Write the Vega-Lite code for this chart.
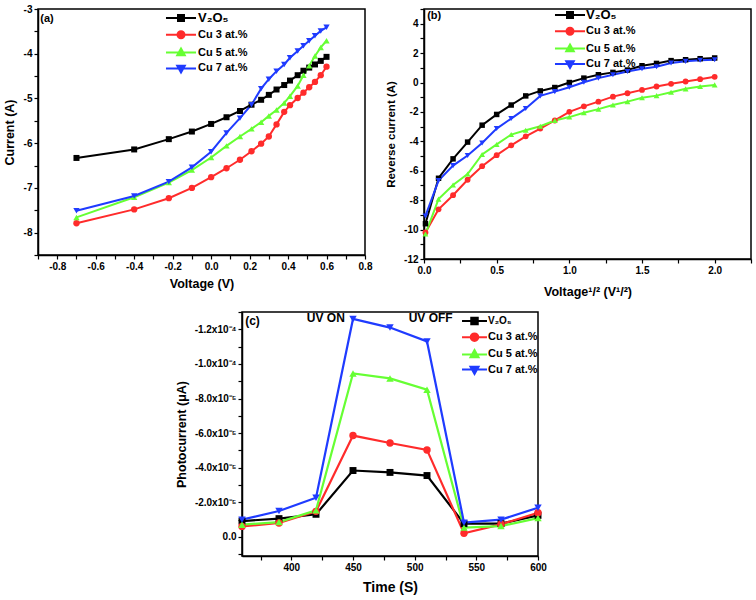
{
  "$schema": "https://vega.github.io/schema/vega-lite/v6.json",
  "padding": {"left": 2, "top": 3, "right": 0, "bottom": 0},
  "config": {
    "view": {"stroke": "#000000", "strokeWidth": 1.5},
    "font": "Liberation Sans",
    "axis": {"grid": false, "domainColor": "#000000", "domainWidth": 1.5, "tickColor": "#000000", "tickWidth": 1.2, "tickSize": 4, "labelColor": "#000000", "labelFont": "Liberation Sans", "labelFontWeight": "bold", "labelFontSize": 10, "labelPadding": 2, "titleColor": "#000000", "titleFont": "Liberation Sans", "titleFontWeight": "bold", "titleFontSize": 12.5, "labelOverlap": false, "labelFlush": false},
    "legend": {"labelFont": "Liberation Sans", "labelFontWeight": "bold", "labelFontSize": 11, "labelColor": "#000000", "padding": 0, "symbolSize": 169, "symbolStrokeWidth": 2, "labelLimit": 200}
  },
  "datasets": {
    "iv": [
      {"s":"V₂O₅","x":-0.7,"y":-6.33},{"s":"V₂O₅","x":-0.4,"y":-6.14},{"s":"V₂O₅","x":-0.22,"y":-5.91},{"s":"V₂O₅","x":-0.1,"y":-5.74},{"s":"V₂O₅","x":0.0,"y":-5.57},{"s":"V₂O₅","x":0.08,"y":-5.42},{"s":"V₂O₅","x":0.15,"y":-5.28},{"s":"V₂O₅","x":0.21,"y":-5.14},{"s":"V₂O₅","x":0.26,"y":-5.03},{"s":"V₂O₅","x":0.3,"y":-4.92},{"s":"V₂O₅","x":0.34,"y":-4.8},{"s":"V₂O₅","x":0.38,"y":-4.7},{"s":"V₂O₅","x":0.41,"y":-4.6},{"s":"V₂O₅","x":0.45,"y":-4.48},{"s":"V₂O₅","x":0.48,"y":-4.38},{"s":"V₂O₅","x":0.51,"y":-4.31},{"s":"V₂O₅","x":0.54,"y":-4.24},{"s":"V₂O₅","x":0.57,"y":-4.16},{"s":"V₂O₅","x":0.6,"y":-4.07},
      {"s":"Cu 3 at.%","x":-0.7,"y":-7.79},{"s":"Cu 3 at.%","x":-0.4,"y":-7.48},{"s":"Cu 3 at.%","x":-0.22,"y":-7.23},{"s":"Cu 3 at.%","x":-0.1,"y":-7.0},{"s":"Cu 3 at.%","x":0.0,"y":-6.76},{"s":"Cu 3 at.%","x":0.08,"y":-6.56},{"s":"Cu 3 at.%","x":0.15,"y":-6.37},{"s":"Cu 3 at.%","x":0.21,"y":-6.18},{"s":"Cu 3 at.%","x":0.26,"y":-6.01},{"s":"Cu 3 at.%","x":0.3,"y":-5.85},{"s":"Cu 3 at.%","x":0.34,"y":-5.58},{"s":"Cu 3 at.%","x":0.38,"y":-5.3},{"s":"Cu 3 at.%","x":0.41,"y":-5.15},{"s":"Cu 3 at.%","x":0.45,"y":-4.99},{"s":"Cu 3 at.%","x":0.48,"y":-4.87},{"s":"Cu 3 at.%","x":0.51,"y":-4.75},{"s":"Cu 3 at.%","x":0.54,"y":-4.63},{"s":"Cu 3 at.%","x":0.57,"y":-4.48},{"s":"Cu 3 at.%","x":0.6,"y":-4.29},
      {"s":"Cu 5 at.%","x":-0.7,"y":-7.66},{"s":"Cu 5 at.%","x":-0.4,"y":-7.21},{"s":"Cu 5 at.%","x":-0.22,"y":-6.88},{"s":"Cu 5 at.%","x":-0.1,"y":-6.6},{"s":"Cu 5 at.%","x":0.0,"y":-6.32},{"s":"Cu 5 at.%","x":0.08,"y":-6.06},{"s":"Cu 5 at.%","x":0.15,"y":-5.85},{"s":"Cu 5 at.%","x":0.21,"y":-5.68},{"s":"Cu 5 at.%","x":0.26,"y":-5.53},{"s":"Cu 5 at.%","x":0.3,"y":-5.39},{"s":"Cu 5 at.%","x":0.34,"y":-5.26},{"s":"Cu 5 at.%","x":0.38,"y":-5.1},{"s":"Cu 5 at.%","x":0.41,"y":-4.95},{"s":"Cu 5 at.%","x":0.45,"y":-4.72},{"s":"Cu 5 at.%","x":0.48,"y":-4.48},{"s":"Cu 5 at.%","x":0.51,"y":-4.27},{"s":"Cu 5 at.%","x":0.54,"y":-4.05},{"s":"Cu 5 at.%","x":0.57,"y":-3.86},{"s":"Cu 5 at.%","x":0.6,"y":-3.71},
      {"s":"Cu 7 at.%","x":-0.7,"y":-7.51},{"s":"Cu 7 at.%","x":-0.4,"y":-7.18},{"s":"Cu 7 at.%","x":-0.22,"y":-6.86},{"s":"Cu 7 at.%","x":-0.1,"y":-6.54},{"s":"Cu 7 at.%","x":0.0,"y":-6.19},{"s":"Cu 7 at.%","x":0.08,"y":-5.77},{"s":"Cu 7 at.%","x":0.15,"y":-5.44},{"s":"Cu 7 at.%","x":0.21,"y":-5.14},{"s":"Cu 7 at.%","x":0.26,"y":-4.78},{"s":"Cu 7 at.%","x":0.3,"y":-4.57},{"s":"Cu 7 at.%","x":0.34,"y":-4.39},{"s":"Cu 7 at.%","x":0.38,"y":-4.24},{"s":"Cu 7 at.%","x":0.41,"y":-4.09},{"s":"Cu 7 at.%","x":0.45,"y":-3.94},{"s":"Cu 7 at.%","x":0.48,"y":-3.82},{"s":"Cu 7 at.%","x":0.51,"y":-3.71},{"s":"Cu 7 at.%","x":0.54,"y":-3.6},{"s":"Cu 7 at.%","x":0.57,"y":-3.49},{"s":"Cu 7 at.%","x":0.6,"y":-3.41}
    ],
    "rev": [
      {"s":"V₂O₅","x":0.01,"y":-9.6},{"s":"V₂O₅","x":0.1,"y":-6.51},{"s":"V₂O₅","x":0.2,"y":-5.19},{"s":"V₂O₅","x":0.3,"y":-4.05},{"s":"V₂O₅","x":0.4,"y":-2.9},{"s":"V₂O₅","x":0.5,"y":-2.17},{"s":"V₂O₅","x":0.6,"y":-1.53},{"s":"V₂O₅","x":0.7,"y":-0.91},{"s":"V₂O₅","x":0.8,"y":-0.57},{"s":"V₂O₅","x":0.9,"y":-0.34},{"s":"V₂O₅","x":1.0,"y":0.0},{"s":"V₂O₅","x":1.1,"y":0.3},{"s":"V₂O₅","x":1.2,"y":0.53},{"s":"V₂O₅","x":1.3,"y":0.69},{"s":"V₂O₅","x":1.4,"y":0.85},{"s":"V₂O₅","x":1.5,"y":1.14},{"s":"V₂O₅","x":1.6,"y":1.3},{"s":"V₂O₅","x":1.7,"y":1.49},{"s":"V₂O₅","x":1.8,"y":1.55},{"s":"V₂O₅","x":1.9,"y":1.62},{"s":"V₂O₅","x":2.0,"y":1.67},
      {"s":"Cu 3 at.%","x":0.01,"y":-10.2},{"s":"Cu 3 at.%","x":0.1,"y":-8.62},{"s":"Cu 3 at.%","x":0.2,"y":-7.66},{"s":"Cu 3 at.%","x":0.3,"y":-6.61},{"s":"Cu 3 at.%","x":0.4,"y":-5.69},{"s":"Cu 3 at.%","x":0.5,"y":-4.94},{"s":"Cu 3 at.%","x":0.6,"y":-4.27},{"s":"Cu 3 at.%","x":0.7,"y":-3.66},{"s":"Cu 3 at.%","x":0.8,"y":-3.13},{"s":"Cu 3 at.%","x":0.9,"y":-2.58},{"s":"Cu 3 at.%","x":1.0,"y":-1.99},{"s":"Cu 3 at.%","x":1.1,"y":-1.62},{"s":"Cu 3 at.%","x":1.2,"y":-1.3},{"s":"Cu 3 at.%","x":1.3,"y":-0.96},{"s":"Cu 3 at.%","x":1.4,"y":-0.73},{"s":"Cu 3 at.%","x":1.5,"y":-0.5},{"s":"Cu 3 at.%","x":1.6,"y":-0.27},{"s":"Cu 3 at.%","x":1.7,"y":-0.09},{"s":"Cu 3 at.%","x":1.8,"y":0.07},{"s":"Cu 3 at.%","x":1.9,"y":0.23},{"s":"Cu 3 at.%","x":2.0,"y":0.39},
      {"s":"Cu 5 at.%","x":0.01,"y":-10.3},{"s":"Cu 5 at.%","x":0.1,"y":-7.93},{"s":"Cu 5 at.%","x":0.2,"y":-6.97},{"s":"Cu 5 at.%","x":0.3,"y":-6.22},{"s":"Cu 5 at.%","x":0.4,"y":-4.89},{"s":"Cu 5 at.%","x":0.5,"y":-4.21},{"s":"Cu 5 at.%","x":0.6,"y":-3.54},{"s":"Cu 5 at.%","x":0.7,"y":-3.25},{"s":"Cu 5 at.%","x":0.8,"y":-2.97},{"s":"Cu 5 at.%","x":0.9,"y":-2.58},{"s":"Cu 5 at.%","x":1.0,"y":-2.35},{"s":"Cu 5 at.%","x":1.1,"y":-2.06},{"s":"Cu 5 at.%","x":1.2,"y":-1.81},{"s":"Cu 5 at.%","x":1.3,"y":-1.53},{"s":"Cu 5 at.%","x":1.4,"y":-1.3},{"s":"Cu 5 at.%","x":1.5,"y":-1.03},{"s":"Cu 5 at.%","x":1.6,"y":-0.89},{"s":"Cu 5 at.%","x":1.7,"y":-0.66},{"s":"Cu 5 at.%","x":1.8,"y":-0.43},{"s":"Cu 5 at.%","x":1.9,"y":-0.27},{"s":"Cu 5 at.%","x":2.0,"y":-0.16},
      {"s":"Cu 7 at.%","x":0.01,"y":-9.07},{"s":"Cu 7 at.%","x":0.1,"y":-6.67},{"s":"Cu 7 at.%","x":0.2,"y":-5.65},{"s":"Cu 7 at.%","x":0.3,"y":-4.96},{"s":"Cu 7 at.%","x":0.4,"y":-4.11},{"s":"Cu 7 at.%","x":0.5,"y":-3.13},{"s":"Cu 7 at.%","x":0.6,"y":-2.45},{"s":"Cu 7 at.%","x":0.7,"y":-1.76},{"s":"Cu 7 at.%","x":0.8,"y":-0.91},{"s":"Cu 7 at.%","x":0.9,"y":-0.62},{"s":"Cu 7 at.%","x":1.0,"y":-0.32},{"s":"Cu 7 at.%","x":1.1,"y":0.02},{"s":"Cu 7 at.%","x":1.2,"y":0.3},{"s":"Cu 7 at.%","x":1.3,"y":0.53},{"s":"Cu 7 at.%","x":1.4,"y":0.75},{"s":"Cu 7 at.%","x":1.5,"y":0.94},{"s":"Cu 7 at.%","x":1.6,"y":1.07},{"s":"Cu 7 at.%","x":1.7,"y":1.33},{"s":"Cu 7 at.%","x":1.8,"y":1.44},{"s":"Cu 7 at.%","x":1.9,"y":1.51},{"s":"Cu 7 at.%","x":2.0,"y":1.55}
    ],
    "photo": [
      {"s":"V₂O₅","x":360,"y":-0.0000092},{"s":"V₂O₅","x":390,"y":-0.0000106},{"s":"V₂O₅","x":420,"y":-0.0000131},{"s":"V₂O₅","x":450,"y":-0.0000384},{"s":"V₂O₅","x":480,"y":-0.0000373},{"s":"V₂O₅","x":510,"y":-0.0000355},{"s":"V₂O₅","x":540,"y":-0.0000077},{"s":"V₂O₅","x":570,"y":-0.0000077},{"s":"V₂O₅","x":600,"y":-0.0000125},
      {"s":"Cu 3 at.%","x":360,"y":-0.0000061},{"s":"Cu 3 at.%","x":390,"y":-0.0000081},{"s":"Cu 3 at.%","x":420,"y":-0.0000148},{"s":"Cu 3 at.%","x":450,"y":-0.0000586},{"s":"Cu 3 at.%","x":480,"y":-0.0000543},{"s":"Cu 3 at.%","x":510,"y":-0.0000503},{"s":"Cu 3 at.%","x":540,"y":-0.0000021},{"s":"Cu 3 at.%","x":570,"y":-0.0000073},{"s":"Cu 3 at.%","x":600,"y":-0.000014},
      {"s":"Cu 5 at.%","x":360,"y":-0.0000071},{"s":"Cu 5 at.%","x":390,"y":-0.0000086},{"s":"Cu 5 at.%","x":420,"y":-0.0000154},{"s":"Cu 5 at.%","x":450,"y":-0.0000945},{"s":"Cu 5 at.%","x":480,"y":-0.0000916},{"s":"Cu 5 at.%","x":510,"y":-0.0000851},{"s":"Cu 5 at.%","x":540,"y":-0.0000054},{"s":"Cu 5 at.%","x":570,"y":-0.0000063},{"s":"Cu 5 at.%","x":600,"y":-0.0000109},
      {"s":"Cu 7 at.%","x":360,"y":-0.00001},{"s":"Cu 7 at.%","x":390,"y":-0.000015},{"s":"Cu 7 at.%","x":420,"y":-0.0000227},{"s":"Cu 7 at.%","x":450,"y":-0.000126},{"s":"Cu 7 at.%","x":480,"y":-0.000121},{"s":"Cu 7 at.%","x":510,"y":-0.000113},{"s":"Cu 7 at.%","x":540,"y":-0.0000083},{"s":"Cu 7 at.%","x":570,"y":-0.00001},{"s":"Cu 7 at.%","x":600,"y":-0.0000169}
    ]
  },
  "resolve": {"scale": {"color": "independent"}, "legend": {"color": "independent"}},
  "spacing": 11,
  "vconcat": [
    {
      "spacing": 11,
      "resolve": {"scale": {"color": "independent"}, "legend": {"color": "independent"}},
      "hconcat": [
        {
          "width": 327, "height": 246,
          "resolve": {"axis": {"x": "independent", "y": "independent"}},
          "layer": [
            {
              "data": {"name": "iv"},
              "mark": {"type": "line", "strokeWidth": 2},
              "encoding": {
                "x": {"field": "x", "type": "quantitative", "scale": {"domain": [-0.9, 0.8], "nice": false, "zero": false},
                      "axis": {"title": "Voltage (V)", "titlePadding": 6, "labelOverlap": false, "values": [-0.8,-0.6,-0.4,-0.2,0,0.2,0.4,0.6,0.8],
                               "labelExpr": "replace(format(datum.value, '.1f'), '−', '-')"}},
                "y": {"field": "y", "type": "quantitative", "scale": {"domain": [-8.5, -3], "nice": false, "zero": false},
                      "axis": {"title": "Current (A)", "titlePadding": 7, "labelOverlap": false, "values": [-8,-7,-6,-5,-4,-3],
                               "labelExpr": "replace(format(datum.value, 'd'), '−', '-')"}},
                "color": {"field": "s", "type": "nominal",
                          "scale": {"domain": ["V₂O₅","Cu 3 at.%","Cu 5 at.%","Cu 7 at.%"], "range": ["#000000","#ff2b2b","#66ff33","#1f3bff"]},
                          "legend": {"orient": "none", "legendX": 135.5, "legendY": 1.5, "title": null, "rowPadding": 0.8, "labelOffset": 9.5,
                                     "encode": {
                                       "symbols": {"update": {
                                         "shape": {"signal": "datum.value === 'V₂O₅' ? 'M-2.31,0H2.31M-0.46,-0.46H0.46V0.46H-0.46Z' : datum.value === 'Cu 3 at.%' ? 'M-2.31,0H2.31M0.54,0A0.54,0.54,0,1,1,-0.54,0A0.54,0.54,0,1,1,0.54,0Z' : datum.value === 'Cu 5 at.%' ? 'M-2.31,0H2.31M0,-0.62L0.58,0.42H-0.58Z' : 'M-2.31,0H2.31M0,0.62L0.58,-0.42H-0.58Z'"},
                                         "fill": {"signal": "datum.value === 'V₂O₅' ? '#000000' : datum.value === 'Cu 3 at.%' ? '#ff2b2b' : datum.value === 'Cu 5 at.%' ? '#66ff33' : '#1f3bff'"},
                                         "stroke": {"signal": "datum.value === 'V₂O₅' ? '#000000' : datum.value === 'Cu 3 at.%' ? '#ff2b2b' : datum.value === 'Cu 5 at.%' ? '#66ff33' : '#1f3bff'"},
                                         "strokeWidth": {"value": 2},
                                         "opacity": {"value": 1}
                                       }},
                                       "labels": {"update": {"fontSize": {"signal": "datum.value === 'V₂O₅' ? 13 : 11"}}}
                                     }}}
              }
            },
            {"data": {"name": "iv"}, "transform": [{"filter": "datum.s === 'V₂O₅'"}], "mark": {"type": "point", "shape": "square", "filled": true, "opacity": 1, "size": 36, "color": "#000000"}, "encoding": {"x": {"field": "x", "type": "quantitative", "axis": null}, "y": {"field": "y", "type": "quantitative", "axis": null}}},
            {"data": {"name": "iv"}, "transform": [{"filter": "datum.s === 'Cu 3 at.%'"}], "mark": {"type": "point", "shape": "circle", "filled": true, "opacity": 1, "size": 40, "color": "#ff2b2b"}, "encoding": {"x": {"field": "x", "type": "quantitative", "axis": null}, "y": {"field": "y", "type": "quantitative", "axis": null}}},
            {"data": {"name": "iv"}, "transform": [{"filter": "datum.s === 'Cu 5 at.%'"}], "mark": {"type": "point", "shape": "triangle-up", "filled": true, "opacity": 1, "size": 40, "color": "#66ff33"}, "encoding": {"x": {"field": "x", "type": "quantitative", "axis": null}, "y": {"field": "y", "type": "quantitative", "axis": null}}},
            {"data": {"name": "iv"}, "transform": [{"filter": "datum.s === 'Cu 7 at.%'"}], "mark": {"type": "point", "shape": "triangle-down", "filled": true, "opacity": 1, "size": 40, "color": "#1f3bff"}, "encoding": {"x": {"field": "x", "type": "quantitative", "axis": null}, "y": {"field": "y", "type": "quantitative", "axis": null}}},
            {
              "data": {"values": [{"x": -0.853, "y": -3.22, "t": "(a)"}]},
              "mark": {"type": "text", "fontWeight": "bold", "fontSize": 11, "font": "Liberation Sans", "color": "#000000"},
              "encoding": {
                "x": {"field": "x", "type": "quantitative", "axis": {"orient": "bottom", "title": null, "labels": false, "domain": false, "values": [-0.9,-0.7,-0.5,-0.3,-0.1,0.1,0.3,0.5,0.7]}},
                "y": {"field": "y", "type": "quantitative", "axis": {"orient": "left", "title": null, "labels": false, "domain": false, "values": [-8.5,-7.5,-6.5,-5.5,-4.5,-3.5]}},
                "text": {"field": "t"}}
            }
          ]
        },
        {
          "width": 327, "height": 250,
          "resolve": {"axis": {"x": "independent", "y": "independent"}},
          "layer": [
            {
              "data": {"name": "rev"},
              "mark": {"type": "line", "strokeWidth": 2},
              "encoding": {
                "x": {"field": "x", "type": "quantitative", "scale": {"domain": [0, 2.25], "nice": false, "zero": false},
                      "axis": {"title": "Voltage¹/² (V¹/²)", "titlePadding": 10, "labelOverlap": false, "values": [0,0.5,1,1.5,2],
                               "labelExpr": "format(datum.value, '.1f')"}},
                "y": {"field": "y", "type": "quantitative", "scale": {"domain": [-12, 5], "nice": false, "zero": false},
                      "axis": {"title": "Reverse current (A)", "titleFontSize": 11.5, "titlePadding": 7, "labelOverlap": false, "values": [-12,-10,-8,-6,-4,-2,0,2,4],
                               "labelExpr": "replace(format(datum.value, 'd'), '−', '-')"}},
                "color": {"field": "s", "type": "nominal",
                          "scale": {"domain": ["V₂O₅","Cu 3 at.%","Cu 5 at.%","Cu 7 at.%"], "range": ["#000000","#ff2b2b","#66ff33","#1f3bff"]},
                          "legend": {"orient": "none", "legendX": 138.5, "legendY": -1.5, "title": null, "rowPadding": 0.3, "labelOffset": 8.5,
                                     "encode": {
                                       "symbols": {"update": {
                                         "shape": {"signal": "datum.value === 'V₂O₅' ? 'M-2.31,0H2.31M-0.46,-0.46H0.46V0.46H-0.46Z' : datum.value === 'Cu 3 at.%' ? 'M-2.31,0H2.31M0.54,0A0.54,0.54,0,1,1,-0.54,0A0.54,0.54,0,1,1,0.54,0Z' : datum.value === 'Cu 5 at.%' ? 'M-2.31,0H2.31M0,-0.62L0.58,0.42H-0.58Z' : 'M-2.31,0H2.31M0,0.62L0.58,-0.42H-0.58Z'"},
                                         "fill": {"signal": "datum.value === 'V₂O₅' ? '#000000' : datum.value === 'Cu 3 at.%' ? '#ff2b2b' : datum.value === 'Cu 5 at.%' ? '#66ff33' : '#1f3bff'"},
                                         "stroke": {"signal": "datum.value === 'V₂O₅' ? '#000000' : datum.value === 'Cu 3 at.%' ? '#ff2b2b' : datum.value === 'Cu 5 at.%' ? '#66ff33' : '#1f3bff'"},
                                         "strokeWidth": {"value": 2},
                                         "opacity": {"value": 1}
                                       }},
                                       "labels": {"update": {"fontSize": {"signal": "datum.value === 'V₂O₅' ? 13 : 11"}}}
                                     }}}
              }
            },
            {"data": {"name": "rev"}, "transform": [{"filter": "datum.s === 'V₂O₅'"}], "mark": {"type": "point", "shape": "square", "filled": true, "opacity": 1, "size": 30, "color": "#000000"}, "encoding": {"x": {"field": "x", "type": "quantitative", "axis": null}, "y": {"field": "y", "type": "quantitative", "axis": null}}},
            {"data": {"name": "rev"}, "transform": [{"filter": "datum.s === 'Cu 3 at.%'"}], "mark": {"type": "point", "shape": "circle", "filled": true, "opacity": 1, "size": 34, "color": "#ff2b2b"}, "encoding": {"x": {"field": "x", "type": "quantitative", "axis": null}, "y": {"field": "y", "type": "quantitative", "axis": null}}},
            {"data": {"name": "rev"}, "transform": [{"filter": "datum.s === 'Cu 5 at.%'"}], "mark": {"type": "point", "shape": "triangle-up", "filled": true, "opacity": 1, "size": 34, "color": "#66ff33"}, "encoding": {"x": {"field": "x", "type": "quantitative", "axis": null}, "y": {"field": "y", "type": "quantitative", "axis": null}}},
            {"data": {"name": "rev"}, "transform": [{"filter": "datum.s === 'Cu 7 at.%'"}], "mark": {"type": "point", "shape": "triangle-down", "filled": true, "opacity": 1, "size": 34, "color": "#1f3bff"}, "encoding": {"x": {"field": "x", "type": "quantitative", "axis": null}, "y": {"field": "y", "type": "quantitative", "axis": null}}},
            {
              "data": {"values": [{"x": 0.07, "y": 4.55, "t": "(b)"}]},
              "mark": {"type": "text", "fontWeight": "bold", "fontSize": 11, "font": "Liberation Sans", "color": "#000000"},
              "encoding": {
                "x": {"field": "x", "type": "quantitative", "axis": {"orient": "bottom", "title": null, "labels": false, "domain": false, "values": [0.25,0.75,1.25,1.75,2.25]}},
                "y": {"field": "y", "type": "quantitative", "axis": {"orient": "left", "title": null, "labels": false, "domain": false, "values": [-11,-9,-7,-5,-3,-1,1,3,5]}},
                "text": {"field": "t"}}
            }
          ]
        }
      ]
    },
    {
      "spacing": 116,
      "resolve": {"scale": {"color": "independent"}, "legend": {"color": "independent"}},
      "hconcat": [
        {
          "width": 0, "height": 0,
          "data": {"values": [{}]},
          "mark": {"type": "point", "opacity": 0},
          "encoding": {}
        },
        {
          "width": 296, "height": 244,
          "resolve": {"axis": {"x": "independent", "y": "independent"}},
          "layer": [
            {
              "data": {"name": "photo"},
              "mark": {"type": "line", "strokeWidth": 2.2},
              "encoding": {
                "x": {"field": "x", "type": "quantitative", "scale": {"domain": [360, 600], "nice": false, "zero": false},
                      "axis": {"title": "Time (S)", "titleFontSize": 14, "titlePadding": 8, "labelOverlap": false, "values": [400,450,500,550,600],
                               "labelExpr": "format(datum.value, 'd')"}},
                "y": {"field": "y", "type": "quantitative", "scale": {"domain": [-0.00013, 0.000011], "nice": false, "zero": false, "reverse": true},
                      "axis": {"title": "Photocurrent (μA)", "titlePadding": 6, "labelOverlap": false,
                               "values": [0,-0.00002,-0.00004,-0.00006,-0.00008,-0.0001,-0.00012],
                               "labelExpr": "abs(datum.value) < 1e-9 ? '0.0' : (abs(datum.value) > 9.5e-5 ? replace(format(datum.value*1e4, '.1f'), '−', '-') + 'x10⁻⁴' : replace(format(datum.value*1e5, '.1f'), '−', '-') + 'x10⁻⁵')"}},
                "color": {"field": "s", "type": "nominal",
                          "scale": {"domain": ["V₂O₅","Cu 3 at.%","Cu 5 at.%","Cu 7 at.%"], "range": ["#000000","#ff2b2b","#66ff33","#1f3bff"]},
                          "legend": {"orient": "none", "legendX": 225, "legendY": 1.5, "title": null, "rowPadding": 0.2, "labelOffset": 6,
                                     "encode": {
                                       "symbols": {"update": {
                                         "shape": {"signal": "datum.value === 'V₂O₅' ? 'M-1.92,0H1.92M-0.5,-0.5H0.5V0.5H-0.5Z' : datum.value === 'Cu 3 at.%' ? 'M-1.92,0H1.92M0.58,0A0.58,0.58,0,1,1,-0.58,0A0.58,0.58,0,1,1,0.58,0Z' : datum.value === 'Cu 5 at.%' ? 'M-1.92,0H1.92M0,-0.66L0.62,0.45H-0.62Z' : 'M-1.92,0H1.92M0,0.66L0.62,-0.45H-0.62Z'"},
                                         "fill": {"signal": "datum.value === 'V₂O₅' ? '#000000' : datum.value === 'Cu 3 at.%' ? '#ff2b2b' : datum.value === 'Cu 5 at.%' ? '#66ff33' : '#1f3bff'"},
                                         "stroke": {"signal": "datum.value === 'V₂O₅' ? '#000000' : datum.value === 'Cu 3 at.%' ? '#ff2b2b' : datum.value === 'Cu 5 at.%' ? '#66ff33' : '#1f3bff'"},
                                         "strokeWidth": {"value": 2},
                                         "opacity": {"value": 1}
                                       }},
                                       "labels": {"update": {"fontSize": {"signal": "datum.value === 'V₂O₅' ? 10 : 11"}}}
                                     }}}
              }
            },
            {"data": {"name": "photo"}, "transform": [{"filter": "datum.s === 'V₂O₅'"}], "mark": {"type": "point", "shape": "square", "filled": true, "opacity": 1, "size": 48, "color": "#000000"}, "encoding": {"x": {"field": "x", "type": "quantitative", "axis": null}, "y": {"field": "y", "type": "quantitative", "axis": null}}},
            {"data": {"name": "photo"}, "transform": [{"filter": "datum.s === 'Cu 3 at.%'"}], "mark": {"type": "point", "shape": "circle", "filled": true, "opacity": 1, "size": 55, "color": "#ff2b2b"}, "encoding": {"x": {"field": "x", "type": "quantitative", "axis": null}, "y": {"field": "y", "type": "quantitative", "axis": null}}},
            {"data": {"name": "photo"}, "transform": [{"filter": "datum.s === 'Cu 5 at.%'"}], "mark": {"type": "point", "shape": "triangle-up", "filled": true, "opacity": 1, "size": 55, "color": "#66ff33"}, "encoding": {"x": {"field": "x", "type": "quantitative", "axis": null}, "y": {"field": "y", "type": "quantitative", "axis": null}}},
            {"data": {"name": "photo"}, "transform": [{"filter": "datum.s === 'Cu 7 at.%'"}], "mark": {"type": "point", "shape": "triangle-down", "filled": true, "opacity": 1, "size": 55, "color": "#1f3bff"}, "encoding": {"x": {"field": "x", "type": "quantitative", "axis": null}, "y": {"field": "y", "type": "quantitative", "axis": null}}},
            {
              "data": {"values": [{"x": 368.5, "y": -0.0001248, "t": "(c)"}, {"x": 428, "y": -0.0001265, "t": "UV ON"}, {"x": 513, "y": -0.0001265, "t": "UV OFF"}]},
              "mark": {"type": "text", "fontWeight": "bold", "fontSize": 12, "font": "Liberation Sans", "color": "#000000"},
              "encoding": {
                "x": {"field": "x", "type": "quantitative", "axis": {"orient": "bottom", "title": null, "labels": false, "domain": false, "values": [375,425,475,525,575]}},
                "y": {"field": "y", "type": "quantitative", "axis": {"orient": "left", "title": null, "labels": false, "domain": false, "values": [0.00001,-0.00001,-0.00003,-0.00005,-0.00007,-0.00009,-0.00011,-0.00013]}},
                "text": {"field": "t"}}
            }
          ]
        }
      ]
    }
  ]
}
